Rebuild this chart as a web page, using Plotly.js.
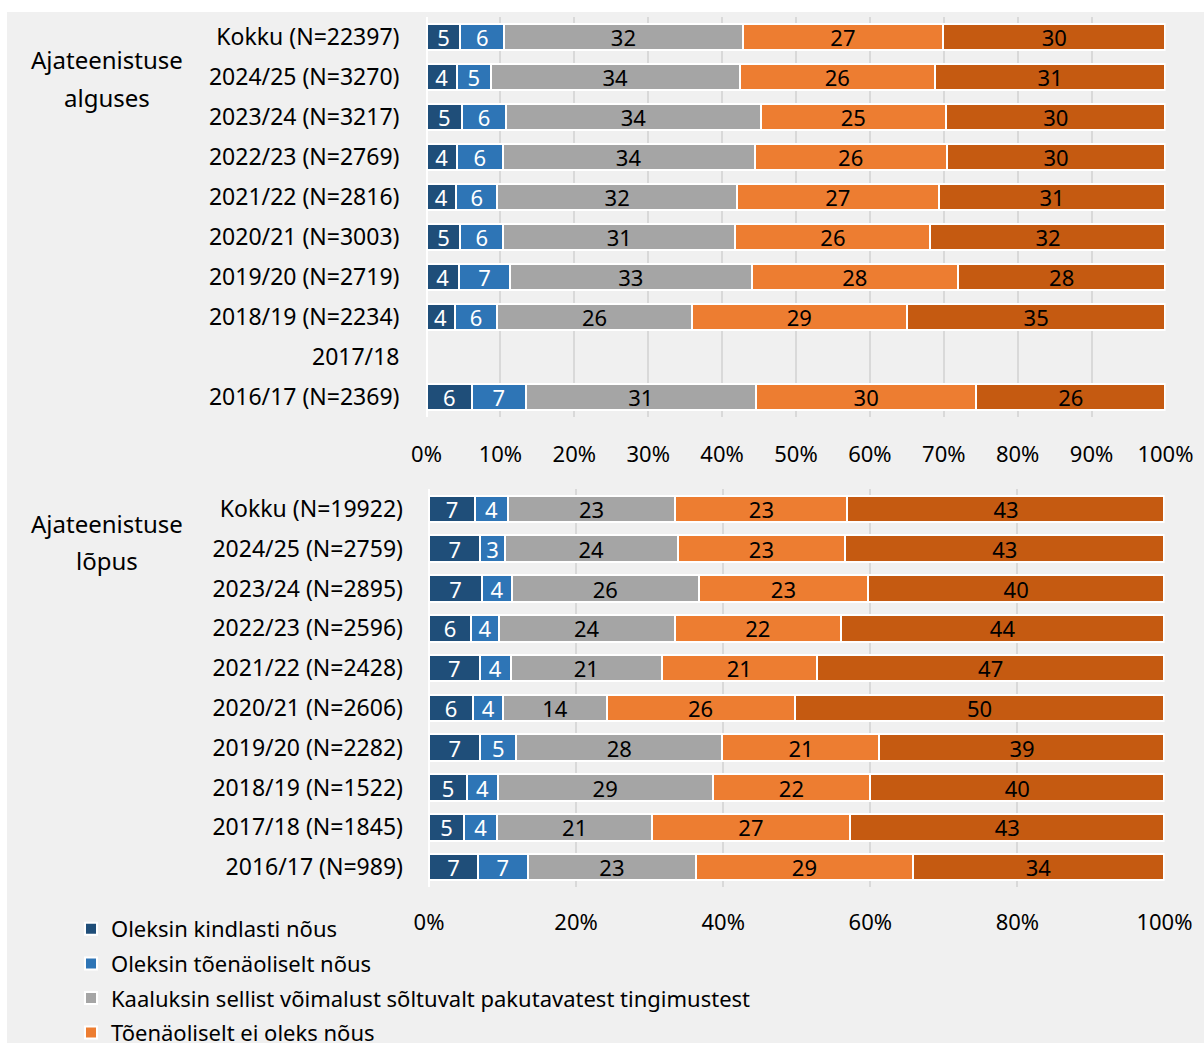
<!DOCTYPE html>
<html>
<head>
<meta charset="utf-8">
<script src="https://cdn.plot.ly/plotly-3.0.1.min.js"></script>
<style>
  html, body { margin: 0; padding: 0; background: #ffffff; overflow: hidden; }
  #chart { position: absolute; left: 7px; top: 12px; width: 1197px; height: 1031px; }
</style>
</head>
<body>
<div id="chart"></div>
<script>
// ---- data ----
const seriesNames = [
  "Oleksin kindlasti nõus",
  "Oleksin tõenäoliselt nõus",
  "Kaaluksin sellist võimalust sõltuvalt pakutavatest tingimustest",
  "Tõenäoliselt ei oleks nõus",
  "Kindlasti ei oleks nõus"
];
const seriesColors = ["#1f4e79", "#2e75b6", "#a5a5a5", "#ed7d31", "#c55a11"];
const textColors = ["#ffffff", "#ffffff", "#000000", "#000000", "#000000"];

const groupStartLabel = ["Ajateenistuse", "alguses"];
const groupEndLabel = ["Ajateenistuse", "lõpus"];

// Panel 1: at the start of service
const startCategories = [
  "Kokku (N=22397)", "2024/25 (N=3270)", "2023/24 (N=3217)", "2022/23 (N=2769)",
  "2021/22 (N=2816)", "2020/21 (N=3003)", "2019/20 (N=2719)", "2018/19 (N=2234)",
  "2017/18", "2016/17 (N=2369)"
];
// bar lengths (%)
const startDefinitely = [4.6, 4.1, 4.8, 4.1, 4.0, 4.6, 4.4, 3.8, null, 6.2];
const startProbably   = [5.9, 4.6, 6.0, 6.2, 5.6, 5.8, 6.9, 5.8, null, 7.2];
const startConsider   = [32.3, 33.7, 34.4, 34.1, 32.4, 31.4, 32.7, 26.3, null, 31.2];
const startProbNot    = [27.1, 26.4, 25.1, 26.0, 27.3, 26.4, 27.9, 29.1, null, 29.8];
const startDefNot     = [30.1, 31.2, 29.7, 29.6, 30.7, 31.8, 28.1, 35.0, null, 25.6];
// data labels shown on the bars
const startDefinitelyLbl = [5, 4, 5, 4, 4, 5, 4, 4, null, 6];
const startProbablyLbl   = [6, 5, 6, 6, 6, 6, 7, 6, null, 7];
const startConsiderLbl   = [32, 34, 34, 34, 32, 31, 33, 26, null, 31];
const startProbNotLbl    = [27, 26, 25, 26, 27, 26, 28, 29, null, 30];
const startDefNotLbl     = [30, 31, 30, 30, 31, 32, 28, 35, null, 26];

// Panel 2: at the end of service
const endCategories = [
  "Kokku (N=19922)", "2024/25 (N=2759)", "2023/24 (N=2895)", "2022/23 (N=2596)",
  "2021/22 (N=2428)", "2020/21 (N=2606)", "2019/20 (N=2282)", "2018/19 (N=1522)",
  "2017/18 (N=1845)", "2016/17 (N=989)"
];
const endDefinitely = [6.3, 7.0, 7.25, 5.7, 6.9, 6.0, 7.0, 5.2, 4.8, 6.7];
const endProbably   = [4.4, 3.3, 3.97, 3.8, 4.2, 4.1, 4.85, 4.15, 4.5, 6.7];
const endConsider   = [22.8, 23.5, 25.5, 23.9, 20.55, 14.05, 28.05, 29.2, 21.0, 22.95];
const endProbNot    = [23.4, 22.8, 22.95, 22.6, 21.1, 25.55, 21.35, 21.45, 26.95, 29.4];
const endDefNot     = [43.1, 43.4, 40.33, 44.0, 47.25, 50.3, 38.75, 40.0, 42.75, 34.25];
const endDefinitelyLbl = [7, 7, 7, 6, 7, 6, 7, 5, 5, 7];
const endProbablyLbl   = [4, 3, 4, 4, 4, 4, 5, 4, 4, 7];
const endConsiderLbl   = [23, 24, 26, 24, 21, 14, 28, 29, 21, 23];
const endProbNotLbl    = [23, 23, 23, 22, 21, 26, 21, 22, 27, 29];
const endDefNotLbl     = [43, 43, 40, 44, 47, 50, 39, 40, 43, 34];

const startTickVals = [0, 10, 20, 30, 40, 50, 60, 70, 80, 90, 100];
const startTickText = ["0%", "10%", "20%", "30%", "40%", "50%", "60%", "70%", "80%", "90%", "100%"];
const endTickVals = [0, 20, 40, 60, 80, 100];
const endTickText = ["0%", "20%", "40%", "60%", "80%", "100%"];

// ---- build ----
const FONT = "'Segoe UI', 'Noto Sans', 'Open Sans', sans-serif";
const startSeries = [startDefinitely, startProbably, startConsider, startProbNot, startDefNot];
const startLabels = [startDefinitelyLbl, startProbablyLbl, startConsiderLbl, startProbNotLbl, startDefNotLbl];
const endSeries = [endDefinitely, endProbably, endConsider, endProbNot, endDefNot];
const endLabels = [endDefinitelyLbl, endProbablyLbl, endConsiderLbl, endProbNotLbl, endDefNotLbl];

const traces = [];
function addTraces(seriesArr, labelArr, cats, xa, ya, showLegend) {
  seriesArr.forEach((vals, i) => {
    traces.push({
      type: 'bar',
      orientation: 'h',
      name: seriesNames[i],
      legendgroup: 'g' + i,
      showlegend: showLegend,
      x: vals,
      y: cats,
      xaxis: xa,
      yaxis: ya,
      text: labelArr[i].map(v => v == null ? '' : String(v)),
      textposition: 'inside',
      insidetextanchor: 'middle',
      textangle: 0,
      constraintext: 'none',
      cliponaxis: false,
      insidetextfont: { family: FONT, size: 22, color: textColors[i] },
      marker: { color: seriesColors[i], line: { color: '#ffffff', width: 2 } },
      hoverinfo: 'y+name+text'
    });
  });
}
addTraces(startSeries, startLabels, startCategories, 'x', 'y', true);
addTraces(endSeries, endLabels, endCategories, 'x2', 'y2', false);

const H = 1031, W = 1197;
const TICKFONT = { family: FONT, size: 22, color: '#000000' };
const CATFONT = { family: FONT, size: 23, color: '#000000' };
const XMAX = 100.02;
const layout = {
  width: W,
  height: H,
  paper_bgcolor: '#f0f0f0',
  plot_bgcolor: 'rgba(0,0,0,0)',
  barmode: 'stack',
  bargap: 0.33,
  margin: { l: 0, r: 0, t: 0, b: 0, autoexpand: false },
  font: { family: FONT, size: 22, color: '#000000' },
  xaxis: {
    domain: [419.5 / W, 1158.6 / W],
    anchor: 'y',
    range: [0, XMAX],
    tickmode: 'array',
    tickvals: startTickVals,
    ticktext: startTickText,
    showgrid: true, gridcolor: '#d9d9d9', gridwidth: 2,
    zeroline: true, zerolinecolor: '#ffffff', zerolinewidth: 2,
    showline: false, ticks: '',
    ticklabelstandoff: 22,
    tickfont: TICKFONT,
    fixedrange: true
  },
  yaxis: {
    domain: [1 - 405 / H, 1 - 5 / H],
    anchor: 'x',
    type: 'category',
    categoryorder: 'array',
    categoryarray: startCategories,
    autorange: 'reversed',
    showgrid: false, zeroline: false, showline: false, ticks: '',
    ticklabelstandoff: 26,
    tickfont: CATFONT,
    fixedrange: true
  },
  xaxis2: {
    domain: [422 / W, 1157.6 / W],
    anchor: 'y2',
    range: [0, XMAX],
    tickmode: 'array',
    tickvals: endTickVals,
    ticktext: endTickText,
    showgrid: true, gridcolor: '#d9d9d9', gridwidth: 2,
    zeroline: true, zerolinecolor: '#ffffff', zerolinewidth: 2,
    showline: false, ticks: '',
    ticklabelstandoff: 20,
    tickfont: TICKFONT,
    fixedrange: true
  },
  yaxis2: {
    domain: [1 - 875 / H, 1 - 477 / H],
    anchor: 'x2',
    type: 'category',
    categoryorder: 'array',
    categoryarray: endCategories,
    autorange: 'reversed',
    showgrid: false, zeroline: false, showline: false, ticks: '',
    ticklabelstandoff: 25,
    tickfont: CATFONT,
    fixedrange: true
  },
  legend: {
    x: 64 / W, xanchor: 'left',
    y: 1 - 896 / H, yanchor: 'top',
    orientation: 'v',
    traceorder: 'grouped',
    tracegroupgap: 3,
    bgcolor: 'rgba(0,0,0,0)',
    font: { family: FONT, size: 22, color: '#000000' },
    itemclick: false, itemdoubleclick: false
  },
  annotations: [
    { text: groupStartLabel[0], x: 100 / W, y: 1 - 48 / H },
    { text: groupStartLabel[1], x: 100 / W, y: 1 - 85 / H },
    { text: groupEndLabel[0], x: 100 / W, y: 1 - 512 / H },
    { text: groupEndLabel[1], x: 100 / W, y: 1 - 548 / H }
  ].map(a => Object.assign(a, {
    xref: 'paper', yref: 'paper', xanchor: 'center', yanchor: 'middle',
    showarrow: false, font: { family: FONT, size: 24, color: '#000000' }
  }))
};

Plotly.newPlot('chart', traces, layout, { displayModeBar: false, staticPlot: false });
</script>
</body>
</html>
